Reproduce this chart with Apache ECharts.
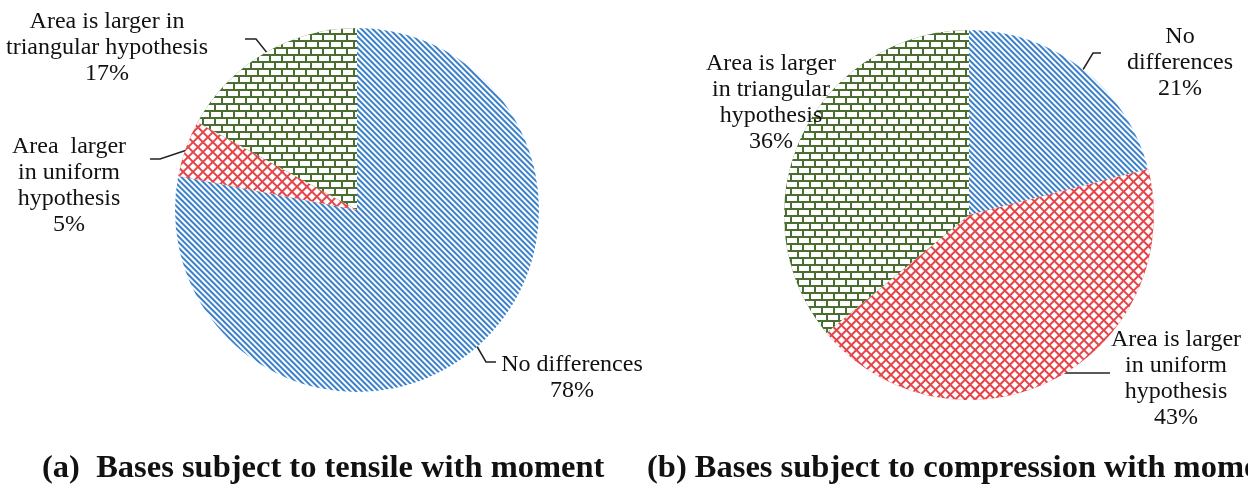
<!DOCTYPE html>
<html>
<head>
<meta charset="utf-8">
<script src="https://cdn.jsdelivr.net/npm/echarts@6/dist/echarts.min.js"></script>
<style>
  html, body { margin: 0; padding: 0; background: #fff; }
  #chart { width: 1248px; height: 492px; }
</style>
</head>
<body>
<div id="chart"></div>
<script>
// categories and shares (%)
var categoriesA = ['No differences', 'Area  larger\nin uniform\nhypothesis', 'Area is larger in\ntriangular hypothesis'];
var valuesA = [78, 5, 17];
var categoriesB = ['No\ndifferences', 'Area is larger\nin uniform\nhypothesis', 'Area is larger\nin triangular\nhypothesis'];
var valuesB = [21, 43, 36];
var captionA = '(a)  Bases subject to tensile with moment';
var captionB = '(b) Bases subject to compression with moment';

var serif = 'Liberation Serif';

// patterns
var blueStripe = {
  color: '#3a80cb', symbol: 'rect', symbolSize: 1, symbolKeepAspect: false,
  dashArrayX: [1, 0], dashArrayY: [1.8, 1.1], rotation: Math.PI / 4
};
var greenBrick = {
  color: '#ffffff', symbol: 'rect', symbolSize: 1, symbolKeepAspect: false,
  dashArrayX: [[9.5, 1.5], [4.75, 1.5, 4.75, 0]], dashArrayY: [4.5, 1.5], rotation: 0
};
var redCross = {
  color: '#ffffff', symbol: 'rect', symbolSize: 1, symbolKeepAspect: false,
  dashArrayX: [4.4, 1.5], dashArrayY: [4.4, 1.5], rotation: Math.PI / 4
};

function slices(names, vals, noLine) {
  var styles = [
    { color: '#ffffff', decal: blueStripe },
    { color: '#e4454a', decal: redCross },
    { color: '#4a6e2f', decal: greenBrick }
  ];
  var out = [];
  for (var i = 0; i < vals.length; i++) {
    var d = { name: names[i], value: vals[i], itemStyle: styles[i] };
    if (noLine[i]) d.labelLine = { show: false };
    out.push(d);
  }
  return out;
}

// label placement (center of text block) and leader lines
var labelPosA = [
  { x: 572, y: 378, line: [[475, 343], [486, 362], [496, 362]] },
  { x: 69, y: 186, line: [[190, 149], [160, 159], [150, 159]] },
  { x: 107, y: 48, line: [[268, 54], [256, 39], [245, 39]] }
];
var labelPosB = [
  { x: 1180, y: 63, line: [[1081, 73], [1093, 53], [1101, 53]] },
  { x: 1176, y: 379, line: [[1053, 373], [1110, 373]] },
  { x: 771, y: 103, line: null }
];

function layoutFn(pos) {
  return function (params) {
    var p = pos[params.dataIndex];
    var r = { x: p.x, y: p.y, align: 'center', verticalAlign: 'middle' };
    if (p.line) r.labelLinePoints = p.line;
    return r;
  };
}

var labelStyle = {
  show: true,
  formatter: '{b}\n{c}%',
  fontFamily: serif,
  fontSize: 24,
  lineHeight: 26,
  color: '#111',
  align: 'center'
};

var capStyle = { fontFamily: serif, fontSize: 32.5, fontWeight: 'bold', color: '#111' };

var chart = echarts.init(document.getElementById('chart'));
chart.setOption({
  backgroundColor: '#ffffff',
  animation: false,
  title: [
    { text: captionA, left: 37, top: 447, textStyle: capStyle },
    { text: captionB, left: 642, top: 447, textStyle: capStyle }
  ],
  series: [
    {
      type: 'pie',
      center: [357, 210],
      radius: 182,
      startAngle: 90,
      clockwise: true,
      data: slices(categoriesA, valuesA, [false, false, false]),
      label: labelStyle,
      labelLine: { show: true, lineStyle: { color: '#222', width: 1.5 } },
      labelLayout: layoutFn(labelPosA),
      emphasis: { disabled: true }
    },
    {
      type: 'pie',
      center: [969, 215],
      radius: 185,
      startAngle: 90,
      clockwise: true,
      data: slices(categoriesB, valuesB, [false, false, true]),
      label: labelStyle,
      labelLine: { show: true, lineStyle: { color: '#222', width: 1.5 } },
      labelLayout: layoutFn(labelPosB),
      emphasis: { disabled: true }
    }
  ]
});
</script>
</body>
</html>
